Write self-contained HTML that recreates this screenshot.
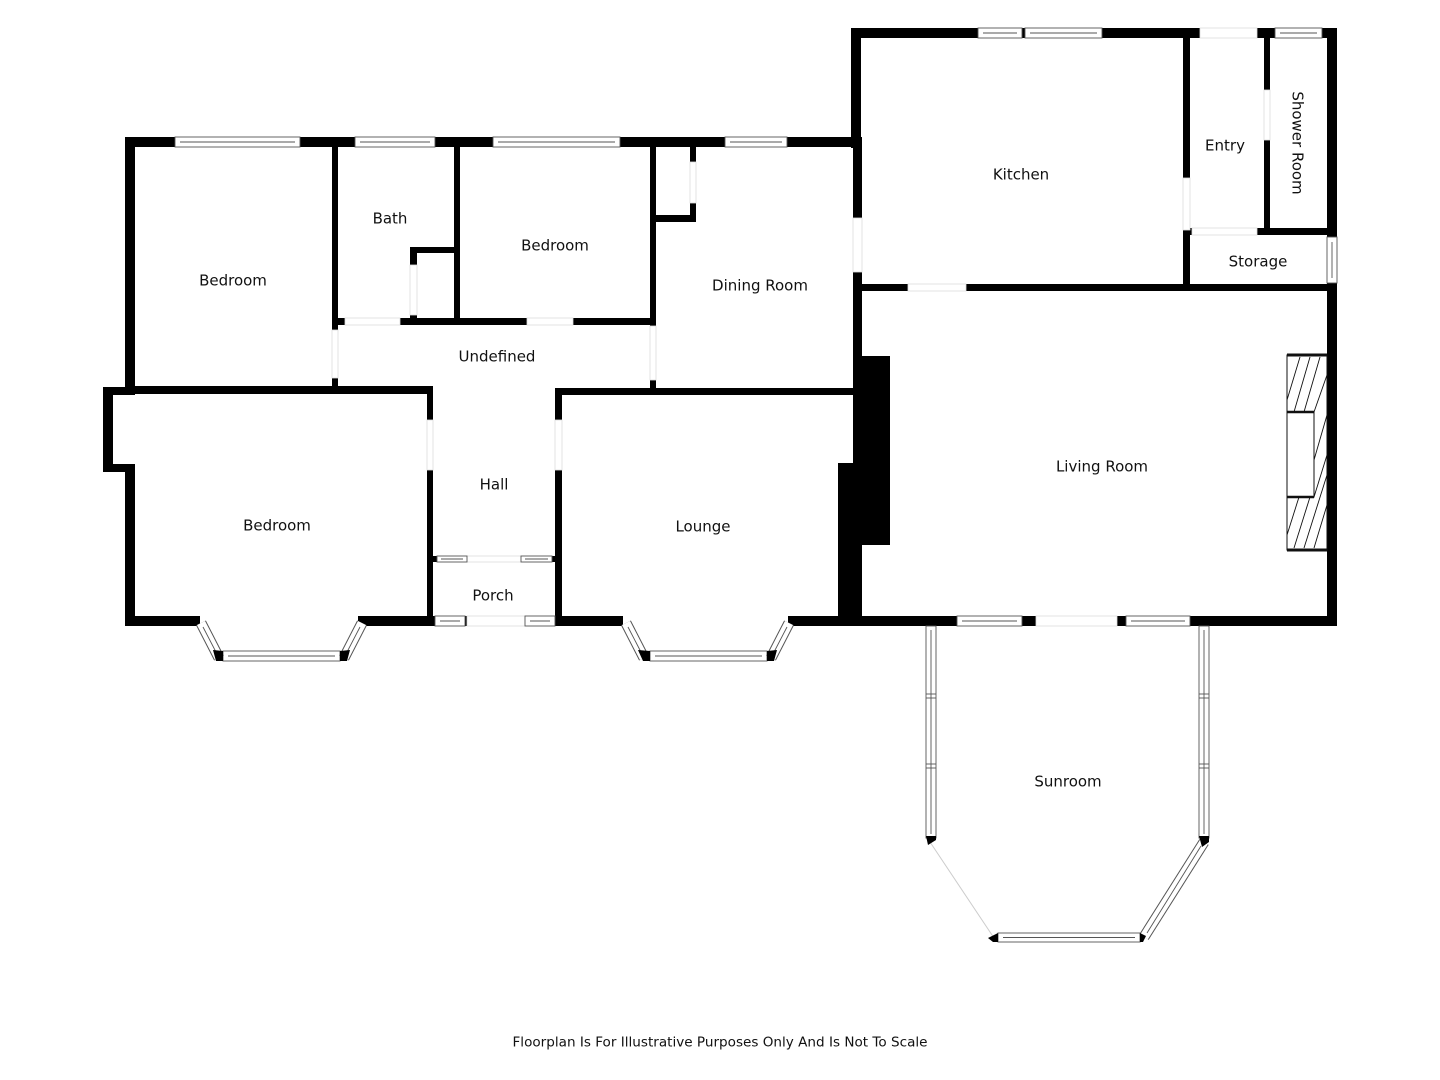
<!DOCTYPE html>
<html><head><meta charset="utf-8"><style>
html,body{margin:0;padding:0;background:#fff;}
svg{display:block;}
text{font-family:"DejaVu Sans","Liberation Sans",sans-serif;font-size:15px;fill:#111;text-anchor:middle;dominant-baseline:middle;}
.w{fill:#fff;stroke:#555;stroke-width:0.9;}
.d{fill:#fff;stroke:#ddd;stroke-width:0.8;}
.ln{stroke:#555;stroke-width:0.9;fill:none;}
</style></head><body>
<svg width="1440" height="1080" viewBox="0 0 1440 1080" xmlns="http://www.w3.org/2000/svg">
<g fill="#000">
<rect x="125" y="137" width="735" height="10"/>
<rect x="125" y="137" width="10" height="257"/>
<rect x="103" y="387" width="32" height="8"/>
<rect x="103" y="387" width="10" height="85"/>
<rect x="103" y="464" width="32" height="8"/>
<rect x="125" y="464" width="10" height="162"/>
<rect x="125" y="616" width="75" height="10"/>
<rect x="358" y="616" width="75" height="10"/>
<rect x="427" y="616" width="135" height="10"/>
<rect x="427" y="388" width="6" height="238"/>
<rect x="125" y="386" width="308" height="8"/>
<rect x="555" y="390" width="7" height="236"/>
<rect x="555" y="388" width="305" height="7"/>
<rect x="555" y="616" width="68" height="10"/>
<rect x="788" y="616" width="72" height="10"/>
<rect x="838" y="463" width="24" height="163"/>
<rect x="855" y="356" width="35" height="189"/>
<rect x="853" y="137" width="9" height="489"/>
<rect x="332" y="147" width="6" height="241"/>
<rect x="332" y="318" width="323" height="7"/>
<rect x="410" y="247" width="7" height="75"/>
<rect x="410" y="247" width="47" height="6"/>
<rect x="454" y="147" width="6" height="175"/>
<rect x="650" y="147" width="6" height="241"/>
<rect x="656" y="215" width="40" height="7"/>
<rect x="690" y="147" width="6" height="75"/>
<rect x="851" y="28" width="486" height="10"/>
<rect x="851" y="28" width="10" height="120"/>
<rect x="853" y="284" width="484" height="7"/>
<rect x="1183" y="38" width="7" height="253"/>
<rect x="1264" y="38" width="6" height="196"/>
<rect x="1183" y="228" width="154" height="7"/>
<rect x="1327" y="28" width="10" height="598"/>
<rect x="853" y="616" width="484" height="10"/>
<rect x="433" y="556" width="122" height="6"/>
</g>
<!-- door gaps -->
<g class="d">
<rect x="332" y="330" width="6" height="48"/>
<rect x="345" y="318" width="55" height="7"/>
<rect x="527" y="318" width="46" height="7"/>
<rect x="410" y="265" width="7" height="50"/>
<rect x="650" y="326" width="6" height="54"/>
<rect x="690" y="162" width="6" height="41"/>
<rect x="853" y="218" width="9" height="54"/>
<rect x="427" y="420" width="6" height="50"/>
<rect x="555" y="420" width="7" height="50"/>
<rect x="467" y="616" width="58" height="10"/>
<rect x="467" y="556" width="54" height="6"/>
<rect x="908" y="284" width="58" height="7"/>
<rect x="1183" y="178" width="7" height="52"/>
<rect x="1264" y="90" width="6" height="50"/>
<rect x="1192" y="228" width="65" height="7"/>
<rect x="1200" y="28" width="57" height="10"/>
<rect x="1036" y="616" width="81" height="10"/>
</g>
<!-- horizontal windows -->
<g>
<rect class="w" x="175" y="137" width="125" height="10"/><line class="ln" x1="180" y1="142" x2="295" y2="142"/>
<rect class="w" x="355" y="137" width="80" height="10"/><line class="ln" x1="360" y1="142" x2="430" y2="142"/>
<rect class="w" x="493" y="137" width="127" height="10"/><line class="ln" x1="498" y1="142" x2="615" y2="142"/>
<rect class="w" x="725" y="137" width="62" height="10"/><line class="ln" x1="730" y1="142" x2="782" y2="142"/>
<rect class="w" x="978" y="28" width="44" height="10"/><line class="ln" x1="983" y1="33" x2="1017" y2="33"/>
<rect class="w" x="1025" y="28" width="77" height="10"/><line class="ln" x1="1030" y1="33" x2="1097" y2="33"/>
<rect class="w" x="1275" y="28" width="47" height="10"/><line class="ln" x1="1280" y1="33" x2="1317" y2="33"/>
<rect class="w" x="437" y="556" width="30" height="6"/><line class="ln" x1="441" y1="559" x2="463" y2="559"/>
<rect class="w" x="521" y="556" width="31" height="6"/><line class="ln" x1="525" y1="559" x2="548" y2="559"/>
<rect class="w" x="435" y="616" width="30" height="10"/><line class="ln" x1="440" y1="621" x2="460" y2="621"/>
<rect class="w" x="525" y="616" width="30" height="10"/><line class="ln" x1="530" y1="621" x2="550" y2="621"/>
<rect class="w" x="957" y="616" width="65" height="10"/><line class="ln" x1="962" y1="621" x2="1017" y2="621"/>
<rect class="w" x="1126" y="616" width="64" height="10"/><line class="ln" x1="1131" y1="621" x2="1185" y2="621"/>
<rect class="w" x="998" y="933" width="142" height="9"/><line class="ln" x1="1003" y1="937.5" x2="1135" y2="937.5"/>
<rect class="w" x="223" y="651" width="117" height="10"/><line class="ln" x1="228" y1="656" x2="335" y2="656"/>
<rect class="w" x="650" y="651" width="117" height="10"/><line class="ln" x1="655" y1="656" x2="762" y2="656"/>
<!-- vertical windows -->
<rect class="w" x="1327" y="237" width="10" height="46"/><line class="ln" x1="1332" y1="242" x2="1332" y2="278"/>
<rect class="w" x="926" y="626" width="10" height="212"/><line class="ln" x1="931" y1="630" x2="931" y2="834"/>
<line class="ln" x1="926" y1="694" x2="936" y2="694"/><line class="ln" x1="926" y1="698" x2="936" y2="698"/>
<line class="ln" x1="926" y1="764" x2="936" y2="764"/><line class="ln" x1="926" y1="768" x2="936" y2="768"/>
<rect class="w" x="1199" y="626" width="10" height="212"/><line class="ln" x1="1204" y1="630" x2="1204" y2="834"/>
<line class="ln" x1="1199" y1="694" x2="1209" y2="694"/><line class="ln" x1="1199" y1="698" x2="1209" y2="698"/>
<line class="ln" x1="1199" y1="764" x2="1209" y2="764"/><line class="ln" x1="1199" y1="768" x2="1209" y2="768"/>
</g>
<!-- diagonal windows -->
<g stroke-linecap="butt">
<line x1="201" y1="623" x2="219" y2="658" stroke="#555" stroke-width="11"/><line x1="201" y1="623" x2="219" y2="658" stroke="#fff" stroke-width="9"/><line class="ln" x1="203" y1="627" x2="217" y2="654"/>
<line x1="362" y1="623" x2="344" y2="658" stroke="#555" stroke-width="11"/><line x1="362" y1="623" x2="344" y2="658" stroke="#fff" stroke-width="9"/><line class="ln" x1="360" y1="627" x2="346" y2="654"/>
<line x1="626" y1="623" x2="644" y2="658" stroke="#555" stroke-width="11"/><line x1="626" y1="623" x2="644" y2="658" stroke="#fff" stroke-width="9"/><line class="ln" x1="628" y1="627" x2="642" y2="654"/>
<line x1="789" y1="623" x2="771" y2="658" stroke="#555" stroke-width="11"/><line x1="789" y1="623" x2="771" y2="658" stroke="#fff" stroke-width="9"/><line class="ln" x1="787" y1="627" x2="773" y2="654"/>
<line x1="1204" y1="842" x2="1144" y2="937" stroke="#555" stroke-width="11"/><line x1="1204" y1="842" x2="1144" y2="937" stroke="#fff" stroke-width="9"/><line class="ln" x1="1201" y1="846" x2="1147" y2="933"/>
<line x1="930" y1="842" x2="994" y2="938" stroke="#ccc" stroke-width="1"/>
</g>
<g fill="#000">
<polygon points="213,650 223,651 223,661 216,661"/>
<polygon points="340,651 350,650 347,661 340,661"/>
<polygon points="638,650 650,651 650,661 643,661"/>
<polygon points="767,651 777,650 774,661 767,661"/>
<polygon points="926,836 936,836 936,840 928,845"/>
<polygon points="1199,836 1209,836 1209,842 1202,847"/>
<polygon points="988,938 998,933 998,942 993,942"/>
<polygon points="1140,933 1146,936 1143,942 1140,942"/>
</g>
<!-- fireplace -->
<g fill="none" stroke="#111">
<rect x="1287" y="355" width="40" height="195" stroke-width="1"/>
<line x1="1287" y1="355" x2="1327" y2="355" stroke-width="3"/>
<line x1="1287" y1="550" x2="1327" y2="550" stroke-width="3"/>
<rect x="1287" y="412" width="27" height="85" fill="#fff" stroke-width="1"/>
<line x1="1287" y1="412" x2="1314" y2="412" stroke-width="2.5"/>
<line x1="1287" y1="497" x2="1314" y2="497" stroke-width="2.5"/>
<g stroke-width="0.9">
<line x1="1287" y1="400" x2="1300" y2="357"/>
<line x1="1294" y1="412" x2="1310" y2="357"/>
<line x1="1304" y1="412" x2="1320" y2="357"/>
<line x1="1314" y1="412" x2="1327" y2="375"/>
<line x1="1314" y1="460" x2="1327" y2="415"/>
<line x1="1314" y1="497" x2="1327" y2="455"/>
<line x1="1304" y1="548" x2="1327" y2="475"/>
<line x1="1294" y1="548" x2="1310" y2="497"/>
<line x1="1287" y1="535" x2="1299" y2="497"/>
<line x1="1314" y1="548" x2="1327" y2="505"/>
</g>
</g>
<!-- labels -->
<text x="233" y="281">Bedroom</text>
<text x="390" y="219">Bath</text>
<text x="555" y="246">Bedroom</text>
<text x="760" y="286">Dining Room</text>
<text x="1021" y="175">Kitchen</text>
<text x="1225" y="146">Entry</text>
<text x="1297" y="143" transform="rotate(90 1297 143)">Shower Room</text>
<text x="1258" y="262">Storage</text>
<text x="497" y="357">Undefined</text>
<text x="494" y="485">Hall</text>
<text x="493" y="596">Porch</text>
<text x="277" y="526">Bedroom</text>
<text x="703" y="527">Lounge</text>
<text x="1102" y="467">Living Room</text>
<text x="1068" y="782">Sunroom</text>
<text x="720" y="1043" style="font-size:13px" textLength="415" lengthAdjust="spacingAndGlyphs">Floorplan Is For Illustrative Purposes Only And Is Not To Scale</text>
</svg>
</body></html>
